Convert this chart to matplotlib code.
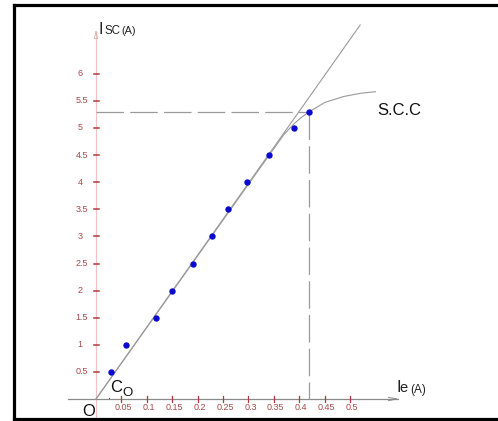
import matplotlib
matplotlib.use("Agg")
import matplotlib.pyplot as plt
from matplotlib.lines import Line2D
from matplotlib.patches import Arc

# ---------------- data ----------------
ie_pts = [0.03, 0.06, 0.119, 0.15, 0.19, 0.229, 0.26, 0.298, 0.34, 0.389, 0.419]
isc_pts = [0.5, 1.0, 1.5, 2.0, 2.5, 3.0, 3.5, 4.0, 4.5, 5.0, 5.3]

airgap_x = [0.0, 0.52]
airgap_y = [0.0, 6.9]

scc_x = [0.0, 0.30, 0.37, 0.39, 0.405, 0.42, 0.45, 0.487, 0.52, 0.55]
scc_y = [0.0, 3.96, 4.88, 5.08, 5.20, 5.30, 5.47, 5.58, 5.64, 5.67]

rated_ie = 0.42
rated_isc = 5.3

yticks = [0.5, 1, 1.5, 2, 2.5, 3, 3.5, 4, 4.5, 5, 5.5, 6]
ytick_labels = ["0.5", "1", "1.5", "2", "2.5", "3", "3.5", "4", "4.5", "5", "5.5", "6"]
xticks = [0.05, 0.1, 0.15, 0.2, 0.25, 0.3, 0.35, 0.4, 0.45, 0.5]
xtick_labels = ["0.05", "0.1", "0.15", "0.2", "0.25", "0.3", "0.35", "0.4", "0.45", "0.5"]

# ---------------- layout helpers (pixel -> data) ----------------
W, H = 498, 421
OX, OY = 96.0, 399.0          # origin pixel
SX, SY = 508.0, 54.2          # pixels per unit

def X(px):
    return (px - OX) / SX

def Y(py):
    return (OY - py) / SY

plt.rcParams["font.family"] = ["Liberation Sans", "DejaVu Sans"]

fig = plt.figure(figsize=(W / 100, H / 100), dpi=100)
ax = fig.add_axes([0, 0, 1, 1])
ax.set_xlim(X(0), X(W))
ax.set_ylim(Y(H), Y(0))
ax.axis("off")

tick_col = "#b03a3a"
lab_col = "#a84848"
line_col = "#9a9a9a"

# axes lines
ax.plot([0, 0], [Y(420), Y(32)], color="#f0c4c4", lw=0.9, zorder=1)
ax.annotate("", xy=(0, Y(27)), xytext=(0, Y(36)),
            arrowprops=dict(arrowstyle="-|>,head_length=0.5,head_width=0.12",
                            color="#d8b0b0", lw=0.6, fill=False))
ax.plot([X(68), X(398)], [0, 0], color="#8a8a8a", lw=0.9, zorder=1)
ax.annotate("", xy=(X(402), 0), xytext=(X(390), 0),
            arrowprops=dict(arrowstyle="->,head_length=0.6,head_width=0.12",
                            color="#8a8a8a", lw=0.7))

# ticks
for v, lab in zip(yticks, ytick_labels):
    ax.plot([X(93.5), X(99)], [v, v], color=tick_col, lw=1.1, zorder=2)
    ax.text(X(75.5) if "." in lab else X(77.5), v, lab, color=lab_col, fontsize=6.5,
            ha="left", va="center")
for v, lab in zip(xticks, xtick_labels):
    ax.plot([v, v], [Y(396), Y(402)], color=tick_col, lw=0.9, zorder=2)
    ax.text(v + X(98) - X(96), Y(408), lab, color=lab_col, fontsize=6.5,
            ha="center", va="center")

# rated dashed lines
dash = (0, (22, 5))
ax.plot([0, rated_ie], [rated_isc, rated_isc], color=line_col, lw=0.9, ls=dash, zorder=2)
ax.plot([rated_ie, rated_ie], [rated_isc, 0], color=line_col, lw=0.9, ls=dash, zorder=2)

# air-gap line and S.C.C curve
ax.plot(airgap_x, airgap_y, color=line_col, lw=0.8, zorder=3)
ax.plot(scc_x, scc_y, color=line_col, lw=0.8, zorder=3)

# measured points
ax.plot(ie_pts, isc_pts, ls="none", marker="o", ms=4.6, color="#0a0ad0",
        markeredgewidth=0, zorder=4)

# angle arc at origin
ax.add_patch(Arc((0, 0), 2 * 13.5 / SX, 2 * 13.5 / SY, theta1=0, theta2=55,
                 color="#555555", lw=0.8, ls=(0, (1, 1.5)), zorder=3))

# texts
ax.text(X(98.5), Y(33.5), "I", fontsize=11.5, ha="left", va="baseline", color="#222222")
ax.text(X(104), Y(33.5), "SC", fontsize=8.3, ha="left", va="baseline", color="#222222")
ax.text(X(121), Y(33.5), "(A)", fontsize=7.8, ha="left", va="baseline", color="#222222")

ax.text(X(396), Y(392.5), "I", fontsize=12, ha="left", va="baseline", color="#222222")
ax.text(X(399.5), Y(392.5), "e", fontsize=10.5, ha="left", va="baseline", color="#222222")
ax.text(X(410), Y(392.5), "(A)", fontsize=8.5, ha="left", va="baseline", color="#222222")

ax.text(X(377), Y(115), "S.C.C", fontsize=12, ha="left", va="baseline", color="#111111")
ax.text(X(82.5), Y(416.5), "O", fontsize=12, ha="left", va="baseline", color="#111111")
ax.text(X(110.5), Y(391.5), "C", fontsize=12, ha="left", va="baseline", color="#111111")
ax.text(X(122.5), Y(396), "O", fontsize=9.5, ha="left", va="baseline", color="#111111")

# frame
fr = dict(color="black", lw=2.3, transform=fig.transFigure, solid_capstyle="projecting")
fig.add_artist(Line2D([13.5 / W, 1.02], [1 - 4.5 / H, 1 - 4.5 / H], **fr))
fig.add_artist(Line2D([13.5 / W, 13.5 / W], [1 - 4.5 / H, 1 - 419 / H], **fr))
fig.add_artist(Line2D([13.5 / W, 1.02], [1 - 419 / H, 1 - 419 / H], **fr))

fig.savefig("out.png", dpi=100)
